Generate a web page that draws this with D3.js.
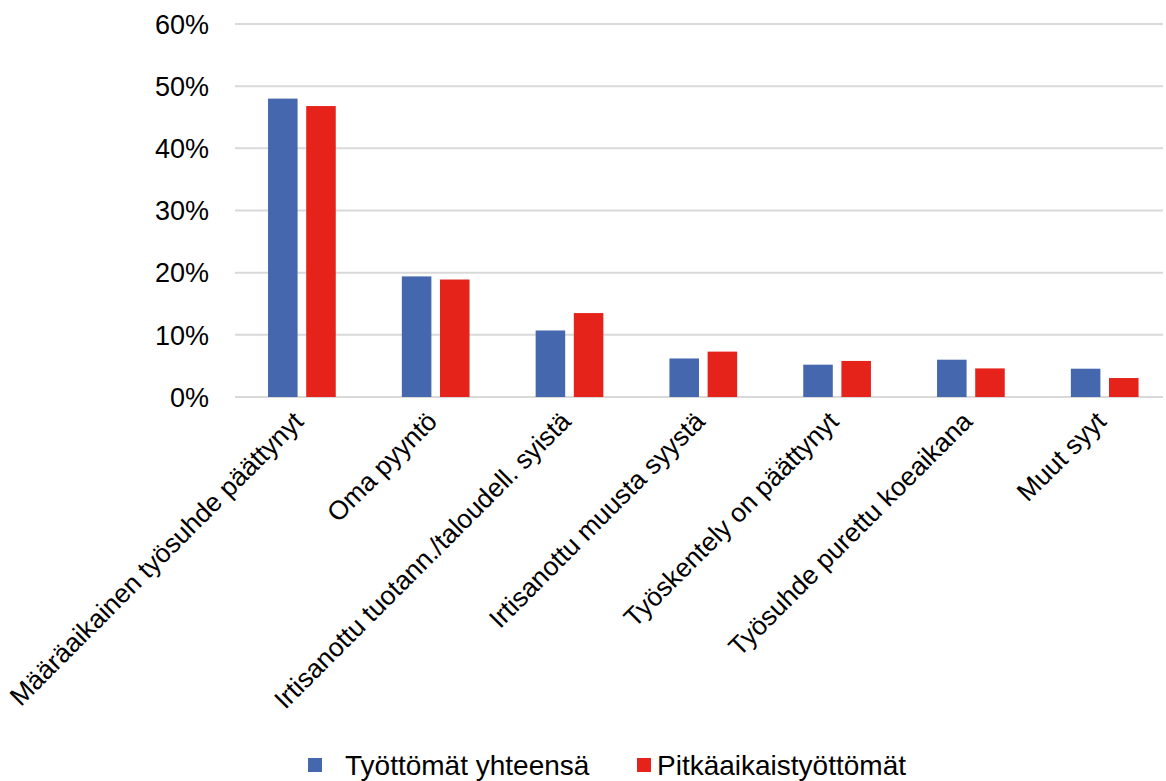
<!DOCTYPE html>
<html><head><meta charset="utf-8">
<script src="https://cdn.jsdelivr.net/npm/d3@7"></script>
<style>body{margin:0;background:#fff}svg{display:block}text{font-family:"Liberation Sans",Arial,sans-serif;fill:#000}</style>
</head><body><svg id="c" width="1166" height="781"></svg>
<script>
const categories = ["Määräaikainen työsuhde päättynyt","Oma pyyntö","Irtisanottu tuotann./taloudell. syistä","Irtisanottu muusta syystä","Työskentely on päättynyt","Työsuhde purettu koeaikana","Muut syyt"];
const seriesNames = ["Työttömät yhteensä","Pitkäaikaistyöttömät"];
const totalValues = [48.0, 19.4, 10.7, 6.2, 5.2, 6.0, 4.55];
const longTermValues = [46.8, 18.9, 13.5, 7.3, 5.8, 4.6, 3.05];
const yTicks = [0, 10, 20, 30, 40, 50, 60];
const colors = ["#4467ae", "#e5231b"];

const svg = d3.select("#c");
const y = d3.scaleLinear().domain([0, 60]).range([397, 24]);
const x0 = d3.scaleBand().domain(categories).range([235, 1171.6]).padding(0);
const bw = x0.bandwidth();
const x1 = d3.scaleBand().domain(seriesNames).range([bw*0.247, bw*0.753]).paddingInner(0.226);

// gridlines
svg.append("g").selectAll("line").data(yTicks).join("line")
  .attr("x1", 235).attr("x2", 1163)
  .attr("y1", d => y(d)).attr("y2", d => y(d))
  .attr("stroke", "#d9d9d9").attr("stroke-width", 2);

// y labels
svg.append("g").selectAll("text").data(yTicks).join("text")
  .attr("x", 209).attr("y", d => y(d)).attr("dy", "0.36em")
  .attr("text-anchor", "end").attr("font-size", 27)
  .text(d => d + "%");

const data = categories.map((c, i) => ({c, vals: [totalValues[i], longTermValues[i]]}));
const g = svg.append("g").selectAll("g").data(data).join("g")
  .attr("transform", d => `translate(${x0(d.c)},0)`);
g.selectAll("rect").data(d => d.vals.map((v, j) => ({s: seriesNames[j], v, j}))).join("rect")
  .attr("x", d => x1(d.s)).attr("width", x1.bandwidth())
  .attr("y", d => y(d.v)).attr("height", d => y(0) - y(d.v))
  .attr("fill", d => colors[d.j]);

// category labels
svg.append("g").selectAll("text").data(categories).join("text")
  .attr("transform", d => `translate(${x0(d) + bw/2 + 3},${423}) rotate(-45)`)
  .attr("text-anchor", "end").attr("font-size", 26.4)
  .text(d => d);

// legend
const leg = [{x: 308, tx: 345}, {x: 637, tx: 657}];
const lg = svg.append("g").selectAll("g").data(seriesNames).join("g");
lg.append("rect").attr("x", (d, i) => leg[i].x).attr("y", 758).attr("width", 14).attr("height", 14)
  .attr("fill", (d, i) => colors[i]);
lg.append("text").attr("x", (d, i) => leg[i].tx).attr("y", 765).attr("dy", "0.36em")
  .attr("font-size", 28).text(d => d);
</script></body></html>
